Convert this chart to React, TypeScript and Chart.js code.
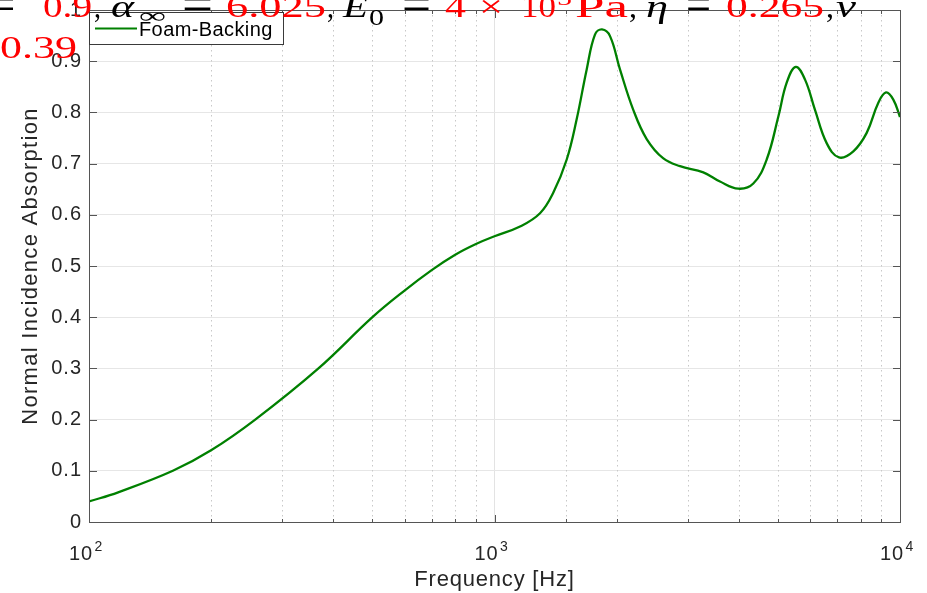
import React, { useEffect, useRef } from 'react';
import { Chart, registerables } from 'chart.js';

Chart.register(...registerables);

// ---- data ----
const FREQ_HZ = [100, 118, 161, 200, 257, 368, 500, 600, 700, 800, 900, 1000, 1156, 1295, 1396, 1507, 1594, 1688, 1769, 1841, 1927, 2039, 2199, 2373, 2609, 2868, 3273, 3598, 3993, 4348, 4691, 5012, 5255, 5532, 5832, 6171, 6594, 7072, 7672, 8277, 8842, 9238, 9627, 10000];
const ABSORPTION = [0.040, 0.058, 0.100, 0.140, 0.200, 0.300, 0.400, 0.452, 0.492, 0.522, 0.543, 0.558, 0.577, 0.603, 0.643, 0.708, 0.786, 0.884, 0.952, 0.962, 0.949, 0.884, 0.805, 0.748, 0.710, 0.695, 0.683, 0.665, 0.651, 0.661, 0.708, 0.792, 0.858, 0.889, 0.864, 0.805, 0.740, 0.712, 0.724, 0.760, 0.819, 0.839, 0.825, 0.791];
const SERIES_LABEL = 'Foam-Backing';
const X_TITLE = 'Frequency [Hz]';
const Y_TITLE = 'Normal Incidence Absorption';
const X_MIN = 100;
const X_MAX = 10000;
const Y_MIN = 0;
const Y_MAX = 1;
const Y_STEP = 0.1;
// title fragments (clipped MATLAB title in the reference)
const TITLE_TEXT = ['=', '0.9', ',', 'α', '∞', '=', '6.025', ',', 'E', '0', '=', '4', '×', '10', '5', 'Pa', ',', 'η', '=', '0.265', ',', 'ν', '0.39'];

// ---- styling ----
const SANS = '"Liberation Sans", Arial, Helvetica, sans-serif';
const SERIF = '"Liberation Serif", "Times New Roman", serif';
const LINE_COLOR = '#008000';
const TEXT_COLOR = '#262626';
const AXIS_COLOR = '#555555';

// layout per title fragment: [x0, x1, baseline, size, italic, red, yScale]
const TITLE_LAYOUT: [number, number, number, number, boolean, boolean, number][] = [
  [-8, 15, 20.4, 31, false, false, 1.6],
  [43, 92, 17, 31, false, true, 1],
  [94, 101, 17, 31, false, false, 1],
  [111, 134, 17, 31, true, false, 1],
  [139, 166, 23, 22, false, false, 1],
  [182, 213, 20.4, 31, false, false, 1.6],
  [226, 326, 17, 31, false, true, 1],
  [327, 334, 17, 31, false, false, 1],
  [343, 368, 17, 31, true, false, 1],
  [369, 384, 25, 24, false, false, 1],
  [402, 431, 20.4, 31, false, false, 1.6],
  [445, 466, 17, 31, false, true, 1],
  [479, 503, 17, 31, false, true, 1],
  [521, 556, 17, 31, false, true, 1],
  [557, 572, 5, 22, false, true, 1],
  [575, 628, 17, 31, false, true, 1],
  [629, 637, 17, 31, false, false, 1],
  [646, 668, 17, 31, true, false, 1],
  [686, 711, 20.4, 31, false, false, 1.6],
  [726, 824, 17, 31, false, true, 1],
  [826, 834, 17, 31, false, false, 1],
  [836, 856, 17, 31, true, false, 1],
  [0, 77, 58, 31, false, true, 1],
];

const isDecade = (v: number) => {
  if (!v) return false;
  const l = Math.log10(v);
  return Math.abs(l - Math.round(l)) < 1e-9;
};

function setSpacing(ctx: any, s: string) {
  try { ctx.letterSpacing = s; } catch (e) {}
}

function patchSpacing(scale: any, name: string, spacing: string) {
  const key = '__patched_' + name;
  if (scale[key]) return;
  const orig = scale[name];
  scale[name] = function (...args: any[]) {
    const ctx = this.ctx;
    ctx.save();
    setSpacing(ctx, spacing);
    orig.apply(this, args);
    ctx.restore();
  };
  scale[key] = true;
}

const matlabPlugin = {
  id: 'matlabLook',
  beforeDatasetsDraw(chart: any) {
    const { ctx, chartArea } = chart;
    const xs = chart.scales.x;
    ctx.save();
    ctx.strokeStyle = '#c8c8c8';
    ctx.lineWidth = 1;
    ctx.setLineDash([1.5, 3.5]);
    xs.ticks.forEach((t: any) => {
      if (isDecade(t.value)) return;
      const px = Math.round(xs.getPixelForValue(t.value)) + 0.5;
      ctx.beginPath();
      ctx.moveTo(px, chartArea.top);
      ctx.lineTo(px, chartArea.bottom);
      ctx.stroke();
    });
    ctx.restore();
  },
  afterDraw(chart: any) {
    const { ctx, chartArea } = chart;
    const { left, right, top, bottom } = chartArea;
    const xs = chart.scales.x;
    const ys = chart.scales.y;
    ctx.save();
    // ticks (inward, mirrored)
    ctx.strokeStyle = AXIS_COLOR;
    ctx.lineWidth = 1;
    ctx.setLineDash([]);
    ys.ticks.forEach((t: any) => {
      const py = Math.round(ys.getPixelForValue(t.value)) + 0.5;
      ctx.beginPath();
      ctx.moveTo(left, py); ctx.lineTo(left + 8, py);
      ctx.moveTo(right + 1, py); ctx.lineTo(right + 1 - 8, py);
      ctx.stroke();
    });
    xs.ticks.forEach((t: any) => {
      const px = Math.round(xs.getPixelForValue(t.value)) + 0.5;
      const len = isDecade(t.value) ? 8 : 4;
      ctx.beginPath();
      ctx.moveTo(px, bottom + 1); ctx.lineTo(px, bottom + 1 - len);
      ctx.moveTo(px, top); ctx.lineTo(px, top + len);
      ctx.stroke();
    });
    // box
    ctx.strokeRect(left + 0.5, top + 0.5, right - left, bottom - top);

    // x tick labels 10^n
    ctx.fillStyle = TEXT_COLOR;
    ctx.textBaseline = 'alphabetic';
    ctx.textAlign = 'left';
    xs.ticks.forEach((t: any) => {
      if (!isDecade(t.value)) return;
      const px = xs.getPixelForValue(t.value);
      const exp = String(Math.round(Math.log10(t.value)));
      setSpacing(ctx, '1px');
      ctx.font = `20px ${SANS}`;
      ctx.fillText('10', px - 20, 560);
      setSpacing(ctx, '0px');
      ctx.font = `14px ${SANS}`;
      ctx.fillText(exp, px + 5.5, 551);
    });

    // legend
    const lx = left + 0.5, ly = top + 2.5, lw = 194, lh = 32;
    ctx.fillStyle = '#ffffff';
    ctx.fillRect(lx, ly, lw, lh);
    ctx.strokeStyle = '#3a3a3a';
    ctx.lineWidth = 1;
    ctx.strokeRect(lx, ly, lw, lh);
    ctx.strokeStyle = LINE_COLOR;
    ctx.lineWidth = 2.2;
    ctx.beginPath();
    ctx.moveTo(left + 6, ly + 16);
    ctx.lineTo(left + 48, ly + 16);
    ctx.stroke();
    ctx.fillStyle = '#000000';
    ctx.font = `20px ${SANS}`;
    setSpacing(ctx, '0.4px');
    ctx.fillText(chart.data.datasets[0].label, left + 50, ly + 23);
    setSpacing(ctx, '0px');

    // clipped title (drawn on top)
    TITLE_TEXT.forEach((txt, i) => {
      const [x0, x1, base, size, italic, red, sy] = TITLE_LAYOUT[i];
      ctx.font = `${italic ? 'italic ' : ''}${size}px ${SERIF}`;
      ctx.fillStyle = red ? '#ff0000' : '#000000';
      const w = ctx.measureText(txt).width || 1;
      const sx = (x1 - x0) / w;
      ctx.save();
      ctx.translate(x0, base);
      ctx.scale(sx, sy);
      ctx.fillText(txt, 0, 0);
      ctx.restore();
    });
    ctx.restore();
  },
};

export default function App() {
  const ref = useRef<HTMLCanvasElement | null>(null);
  useEffect(() => {
    const canvas = ref.current;
    if (!canvas) return;
    const chart = new Chart(canvas, {
      type: 'line',
      data: {
        datasets: [
          {
            label: SERIES_LABEL,
            data: FREQ_HZ.map((f, i) => ({ x: f, y: ABSORPTION[i] })),
            borderColor: LINE_COLOR,
            backgroundColor: LINE_COLOR,
            borderWidth: 2.3,
            pointRadius: 0,
            fill: false,
            tension: 0.4,
          },
        ],
      },
      options: {
        animation: false,
        responsive: false,
        maintainAspectRatio: false,
        devicePixelRatio: 1,
        layout: { padding: { top: 10, right: 27, left: 0, bottom: 0 } },
        plugins: { legend: { display: false }, tooltip: { enabled: false }, title: { display: false } },
        scales: {
          x: {
            type: 'logarithmic',
            position: 'bottom',
            min: X_MIN,
            max: X_MAX,
            border: { display: false },
            grid: {
              drawTicks: false,
              lineWidth: 1,
              color: (c: any) => (c.tick && isDecade(c.tick.value) ? '#e3e3e3' : 'rgba(0,0,0,0)'),
            },
            ticks: { callback: () => '', autoSkip: false, maxRotation: 0, padding: 0 },
            title: {
              display: true,
              text: X_TITLE,
              color: TEXT_COLOR,
              font: { family: SANS, size: 22 },
              padding: { top: 0, bottom: 0 },
            },
            afterFit: (s: any) => {
              s.height = 71;
              s.paddingLeft = 0;
              s.paddingRight = 0;
              patchSpacing(s, 'drawTitle', '0.8px');
            },
          },
          y: {
            min: Y_MIN,
            max: Y_MAX,
            border: { display: false },
            grid: { drawTicks: false, lineWidth: 1, color: '#e6e6e6' },
            ticks: {
              stepSize: Y_STEP,
              color: TEXT_COLOR,
              padding: 7,
              font: { family: SANS, size: 20 },
              callback: (v: any) => String(Number(Number(v).toFixed(1))),
            },
            title: {
              display: true,
              text: Y_TITLE,
              color: TEXT_COLOR,
              font: { family: SANS, size: 22 },
              padding: { top: 18, bottom: 0 },
            },
            afterFit: (s: any) => {
              s.width = 89;
              s.paddingTop = 0;
              s.paddingBottom = 0;
              patchSpacing(s, 'drawLabels', '1px');
              patchSpacing(s, 'drawTitle', '1.3px');
            },
          },
        },
      } as any,
      plugins: [matlabPlugin],
    });
    return () => chart.destroy();
  }, []);
  return (
    <div style={{ position: 'fixed', left: 0, top: 0, width: 927, height: 593, background: '#fff' }}>
      <canvas ref={ref} width={927} height={593} style={{ width: 927, height: 593, display: 'block' }} />
    </div>
  );
}
